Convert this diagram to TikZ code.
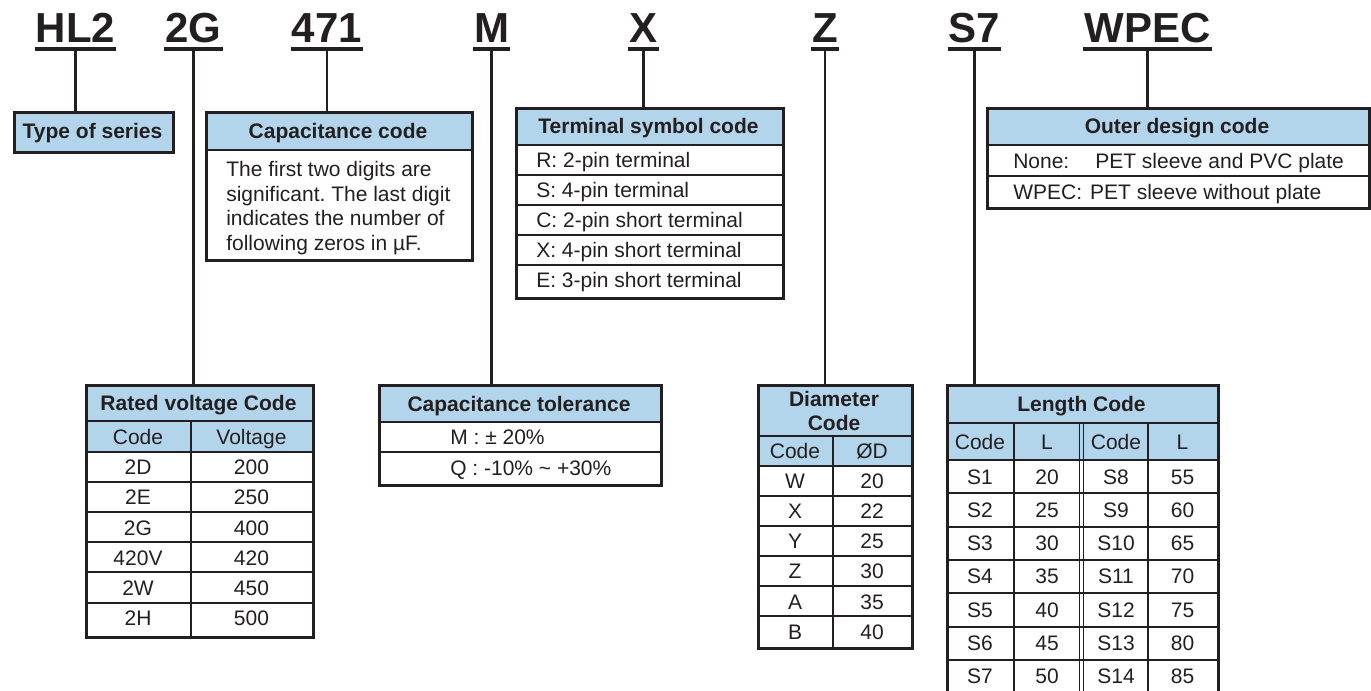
\documentclass[tikz,border=0pt]{standalone}
\usepackage{fontspec}
\setmainfont{Liberation Sans}
\usetikzlibrary{positioning,calc}
\definecolor{Ink}{HTML}{231F20}
\definecolor{HeadBlue}{HTML}{B3D5EC}
\newcommand{\bodyfont}{\fontsize{15.75}{18.4}\selectfont}
\newcommand{\codefont}{\fontsize{31.5}{36}\selectfont\bfseries}
\frenchspacing

\begin{document}
\begin{tikzpicture}[x=0.75pt,y=-0.75pt,
  code/.style={font=\codefont,text=Ink,inner xsep=0.75pt,inner ysep=0pt,text depth=4.5pt,anchor=base},
  uline/.style={draw=Ink,line width=3pt},
  link/.style={draw=Ink,line width=1.6pt},
  framebox/.style 2 args={draw=Ink,line width=2.6pt,anchor=north west,inner sep=0pt,minimum width=#1*0.75pt,minimum height=#2*0.75pt},
  thinrule/.style={draw=Ink,line width=0.9pt},
  midrule/.style={draw=Ink,line width=1.3pt},
  thickrule/.style={draw=Ink,line width=2.2pt},
  cell/.style={font=\bodyfont,text=Ink,inner sep=0pt,text height=11.3pt,text depth=0pt},
  headtext/.style={cell,font=\bodyfont\bfseries}]
\useasboundingbox (0,0) rectangle (1371,691);
\node[code] (hl) at (75.5,43) {HL2};
\node[code] (rv) at (193.5,43) {2G};
\node[code] (cc) at (327,43) {471};
\node[code] (tol) at (491.5,43) {M};
\node[code] (term) at (643.5,43) {X};
\node[code] (dm) at (825,43) {Z};
\node[code] (ln) at (974.5,43) {S7};
\node[code] (od) at (1147.5,43) {WPEC};
\foreach \n in {hl,rv,cc,tol,term,dm,ln,od}
  \draw[uline] (\n.south west) -- (\n.south east);
\fill[HeadBlue] (13,111) rectangle (172,151);
\node[headtext] (tost) at (92.5,131) {Type of series};
\node[framebox={159}{40}] (tos) at (13,111) {};
\fill[HeadBlue] (205,111) rectangle (471,150);
\draw[thickrule] (205,150) -- (471,150);
\node[headtext] (capt) at (338,131) {Capacitance code};
\node[font=\bodyfont,text=Ink,inner sep=0pt,anchor=north west,align=left] (capb) at (226,161) {The first two digits are\\significant. The last digit\\indicates the number of\\following zeros in µF.};
\node[framebox={266}{148}] (cap) at (205,111) {};
\fill[HeadBlue] (515,107) rectangle (782,145);
\draw[thickrule] (515,145) -- (782,145);
\foreach \y in {175,205,235,265}
  \draw[thinrule] (515,\y) -- (782,\y);
\node[headtext] (tsct) at (648.5,126) {Terminal symbol code};
\foreach \t [count=\i] in {R: 2-pin terminal,S: 4-pin terminal,C: 2-pin short terminal,X: 4-pin short terminal,E: 3-pin short terminal}
  \node[cell,anchor=west] (tsc-\i) at (536,{130+30*\i}) {\t};
\node[framebox={267}{190}] (tsc) at (515,107) {};
\fill[HeadBlue] (986,107) rectangle (1368,145);
\draw[thickrule] (986,145) -- (1368,145);
\draw[thinrule] (986,176) -- (1368,176);
\node[headtext] (odct) at (1177,126) {Outer design code};
\node[cell,anchor=west] (odc-1) at (1013,160.5) {None:\hspace{19.5pt}PET sleeve and PVC plate};
\node[cell,anchor=west] (odc-2) at (1013,191.5) {WPEC:\hspace{6pt}PET sleeve without plate};
\node[framebox={382}{100}] (odc) at (986,107) {};
\fill[HeadBlue] (85,384) rectangle (312,452);
\draw[midrule] (85,421) -- (312,421);
\draw[thickrule] (85,452) -- (312,452);
\foreach \y in {482,512,542,572,603}
  \draw[thinrule] (85,\y) -- (312,\y);
\draw[thinrule] (191,421) -- (191,636);
\node[headtext] (rvct) at (198.5,403) {Rated voltage Code};
\node[cell] (rvc-h1) at (138,437) {Code};
\node[cell] (rvc-h2) at (251.5,437) {Voltage};
\foreach \c/\v [count=\i] in {2D/200,2E/250,2G/400,420V/420,2W/450,2H/500} {
  \node[cell] (rvc-c\i) at (138,{437+30.2*\i}) {\c};
  \node[cell] (rvc-v\i) at (251.5,{437+30.2*\i}) {\v};
}
\node[framebox={227}{252}] (rvc) at (85,384) {};
\fill[HeadBlue] (378,384) rectangle (660,422);
\draw[thickrule] (378,422) -- (660,422);
\draw[thinrule] (378,452) -- (660,452);
\node[headtext] (ctlt) at (519,404) {Capacitance tolerance};
\node[cell,anchor=west] (ctl-1) at (450,437) {M : ± 20\%};
\node[cell,anchor=west] (ctl-2) at (450,468) {Q : -10\% \textasciitilde{} +30\%};
\node[framebox={282}{100}] (ctl) at (378,384) {};
\fill[HeadBlue] (757,384) rectangle (911,466);
\draw[midrule] (757,436) -- (911,436);
\draw[thickrule] (757,466) -- (911,466);
\foreach \y in {496,526,556,586,616}
  \draw[thinrule] (757,\y) -- (911,\y);
\draw[thinrule] (833,436) -- (833,647);
\node[headtext] (diat1) at (834,399) {Diameter};
\node[headtext] (diat2) at (834,423) {Code};
\node[cell] (dia-h1) at (795,451) {Code};
\node[cell] (dia-h2) at (872,451) {ØD};
\foreach \c/\v [count=\i] in {W/20,X/22,Y/25,Z/30,A/35,B/40} {
  \node[cell] (dia-c\i) at (795,{451+30.1*\i}) {\c};
  \node[cell] (dia-v\i) at (872,{451+30.1*\i}) {\v};
}
\node[framebox={154}{263}] (dia) at (757,384) {};
\fill[HeadBlue] (946,384) rectangle (1217,460);
\draw[midrule] (946,423) -- (1217,423);
\draw[thickrule] (946,460) -- (1217,460);
\foreach \y in {493,527,560,593,627,660}
  \draw[thinrule] (946,\y) -- (1217,\y);
\foreach \x in {1014,1079.5,1083.5,1148}
  \draw[thinrule] (\x,423) -- (\x,693);
\node[headtext] (lent) at (1081.5,404) {Length Code};
\node[cell] (len-h1) at (980,441.5) {Code};
\node[cell] (len-h2) at (1047,441.5) {L};
\node[cell] (len-h3) at (1116,441.5) {Code};
\node[cell] (len-h4) at (1182.5,441.5) {L};
\foreach \a/\b/\c/\d [count=\i] in {S1/20/S8/55,S2/25/S9/60,S3/30/S10/65,S4/35/S11/70,S5/40/S12/75,S6/45/S13/80,S7/50/S14/85} {
  \node[cell] (len-a\i) at (980,{443.2+33.3*\i}) {\a};
  \node[cell] (len-b\i) at (1047,{443.2+33.3*\i}) {\b};
  \node[cell] (len-c\i) at (1116,{443.2+33.3*\i}) {\c};
  \node[cell] (len-d\i) at (1182.5,{443.2+33.3*\i}) {\d};
}
\node[framebox={271}{309}] (len) at (946,384) {};
\draw[link] (hl.south) -- (hl.south |- tos.north);
\draw[link] (rv.south) -- (rv.south |- rvc.north);
\draw[link] (cc.south) -- (cc.south |- cap.north);
\draw[link] (tol.south) -- (tol.south |- ctl.north);
\draw[link] (term.south) -- (term.south |- tsc.north);
\draw[link] (dm.south) -- (dm.south |- dia.north);
\draw[link] (ln.south) -- (ln.south |- len.north);
\draw[link] (od.south) -- (od.south |- odc.north);
\end{tikzpicture}
\end{document}
